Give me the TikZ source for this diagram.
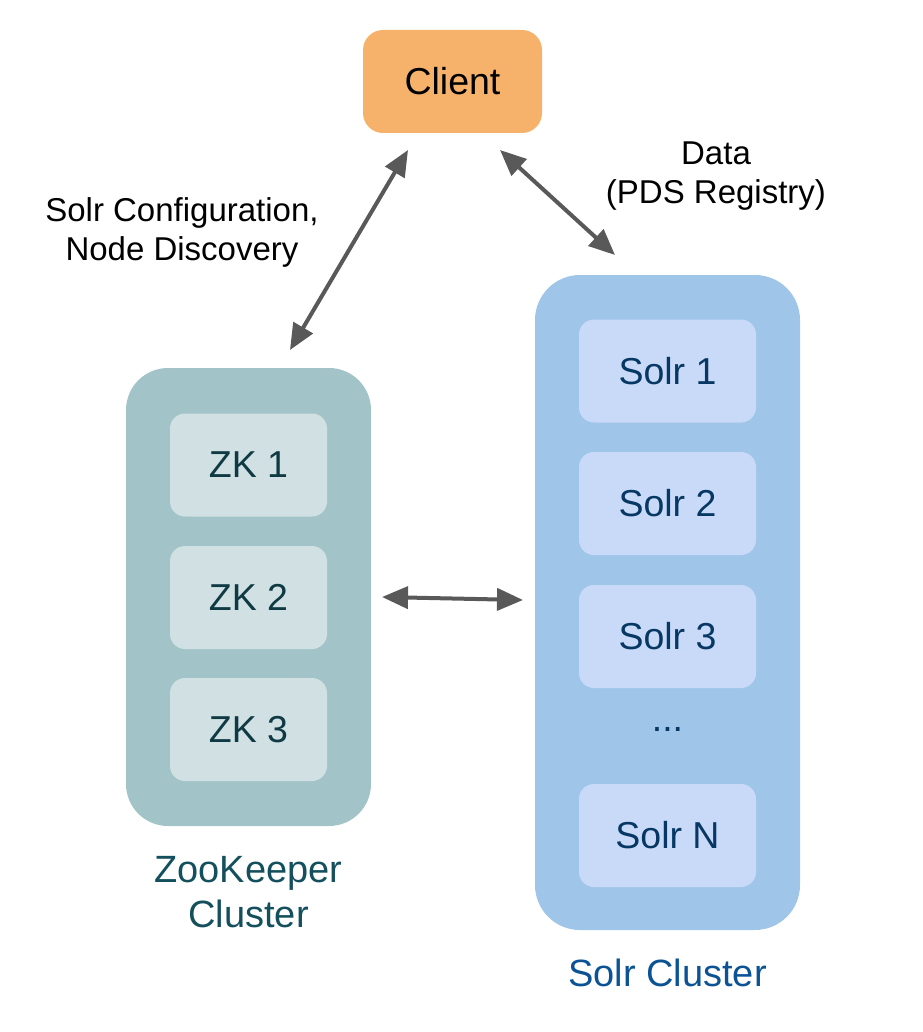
\documentclass[tikz,border=0pt]{standalone}
\usepackage{fontspec}
\setmainfont{Liberation Sans}
\usetikzlibrary{arrows.meta}
\definecolor{clientfill}{HTML}{F6B26B}
\definecolor{zkouter}{HTML}{A2C4C9}
\definecolor{zkinner}{HTML}{D0E0E3}
\definecolor{zktext}{HTML}{0F3A44}
\definecolor{zklabel}{HTML}{134F5C}
\definecolor{solrouter}{HTML}{9FC5E8}
\definecolor{solrinner}{HTML}{C9DAF8}
\definecolor{solrtext}{HTML}{073763}
\definecolor{solrlabel}{HTML}{0B5394}
\definecolor{arrowgray}{HTML}{595959}
\tikzset{
  clientbox/.style={fill=clientfill, rounded corners=20pt, minimum width=179pt, minimum height=103pt, inner sep=0pt, font=\fontsize{37.5}{44}\selectfont},
  zkcluster/.style={fill=zkouter, rounded corners=42pt, minimum width=245pt, minimum height=458pt, inner sep=0pt},
  zkbox/.style={fill=zkinner, rounded corners=15pt, minimum width=157pt, minimum height=103pt, inner sep=0pt, text=zktext, font=\fontsize{37.5}{44}\selectfont},
  solrcluster/.style={fill=solrouter, rounded corners=45pt, minimum width=265pt, minimum height=655pt, inner sep=0pt},
  solrbox/.style={fill=solrinner, rounded corners=15pt, minimum width=177pt, minimum height=103pt, inner sep=0pt, text=solrtext, font=\fontsize{37.5}{44}\selectfont},
  edgelabel/.style={align=center, inner sep=0pt, font=\fontsize{33}{39}\selectfont},
  clusterlabel/.style={align=center, inner sep=0pt, font=\fontsize{38}{45}\selectfont},
  link/.style={draw=arrowgray, line width=4pt, {Triangle[length=26pt,width=22pt]}-{Triangle[length=26pt,width=22pt]}}
}
\begin{document}
\begin{tikzpicture}[x=1pt,y=-1pt]
\useasboundingbox (0,0) rectangle (922,1032);
\node[clientbox] (client) at (452.5,81.5) {Client};
% ZooKeeper cluster
\node[zkcluster] (zk) at (248.5,597) {};
\node[zkbox] (zk1) at (248.5,465) {ZK 1};
\node[zkbox] (zk2) at (248.5,597.5) {ZK 2};
\node[zkbox] (zk3) at (248.5,729.5) {ZK 3};
\node[clusterlabel, text=zklabel] (zklab) at (248.5,892) {ZooKeeper\\Cluster};
% Solr cluster
\node[solrcluster] (solr) at (667.5,602.5) {};
\node[solrbox] (s1) at (667.5,371) {Solr 1};
\node[solrbox] (s2) at (667.5,503.5) {Solr 2};
\node[solrbox] (s3) at (667.5,636.5) {Solr 3};
\node[inner sep=0pt, text=solrtext, font=\fontsize{37.5}{44}\selectfont] (dots) at (667.5,729) {...};
\node[solrbox] (sn) at (667.5,835.5) {Solr N};
\node[clusterlabel, text=solrlabel] (solrlab) at (667.5,973) {Solr Cluster};
% edge labels
\node[edgelabel] (cfglab) at (182,232) {Solr Configuration,\\Node Discovery};
\node[edgelabel] (datalab) at (716,176) {Data\\(PDS Registry)};
% arrow ends
\coordinate (a1s) at (290,350);
\coordinate (a1e) at (408,150);
\coordinate (a2s) at (500,150);
\coordinate (a2e) at (615,255);
\coordinate (a3s) at (382,597);
\coordinate (a3e) at (523,600);
\draw[link] (a1s) -- (a1e);
\draw[link] (a2s) -- (a2e);
\draw[link] (a3s) -- (a3e);
\end{tikzpicture}
\end{document}
